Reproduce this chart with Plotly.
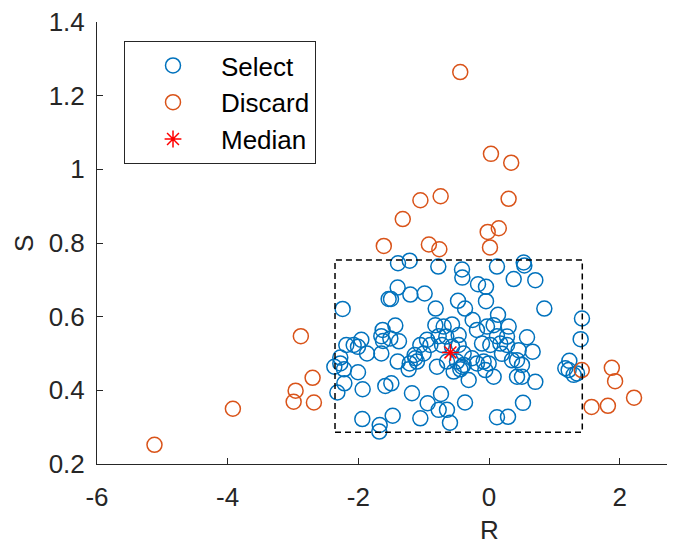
import plotly.graph_objects as go

# ---- data ----
select_r = [-1.393, -1.214, -0.776, -0.413, -0.408, 0.122, 0.531, 0.541, 0.378, 0.709,
            -1.398, -1.536, -1.500, -1.204, -0.985, -0.168, -0.046, -0.474, -0.046, -2.240,
            -0.816, -0.367, 0.847, 1.423, 0.138, -1.434, -1.628, -1.648, -0.821, -0.694,
            -0.566, -0.250, -0.184, -0.031, 0.071, 0.301, -1.954, -2.005, -2.184, -1.378,
            -1.622, -0.949, -0.770, -0.653, -0.464, 0.122, 0.276, 0.582, 1.403, -1.867,
            -1.648, -1.051, -1.138, -0.107, 0.020, 0.173, 0.454, 0.668, -2.276, -2.367,
            -2.219, -1.398, -1.214, -1.102, -0.796, -0.643, -0.490, -0.388, -0.260, -0.082,
            0.199, 0.429, 0.505, 1.230, 1.219, 1.296, -1.230, -0.541, -0.439, -0.311,
            -0.056, 0.071, 0.429, 0.505, 0.709, -2.005, -2.214, -2.321, -1.934, -1.587,
            -1.495, -1.179, -0.735, -0.939, -0.770, -0.643, -0.367, 0.520, -1.939, -1.673,
            -1.679, -1.474, -1.051, -0.597, 0.122, 0.291, -0.898, -0.719, -0.566, -0.464,
            -0.388, -0.184, -0.413, -1.000, 0.276, 0.352, 1.168, -2.071, -1.510, 1.347,
            -1.128, -0.005, -2.276]
select_s = [0.745, 0.752, 0.736, 0.728, 0.706, 0.736, 0.747, 0.739, 0.702, 0.699,
            0.679, 0.648, 0.648, 0.660, 0.663, 0.688, 0.681, 0.643, 0.642, 0.621,
            0.622, 0.622, 0.622, 0.595, 0.605, 0.576, 0.564, 0.547, 0.577, 0.573,
            0.579, 0.591, 0.564, 0.573, 0.577, 0.573, 0.537, 0.518, 0.523, 0.533,
            0.534, 0.537, 0.547, 0.546, 0.550, 0.547, 0.546, 0.544, 0.539, 0.500,
            0.500, 0.523, 0.496, 0.527, 0.523, 0.527, 0.509, 0.505, 0.489, 0.464,
            0.457, 0.478, 0.473, 0.478, 0.464, 0.478, 0.478, 0.469, 0.487, 0.478,
            0.499, 0.482, 0.469, 0.480, 0.455, 0.442, 0.457, 0.451, 0.457, 0.428,
            0.455, 0.437, 0.437, 0.437, 0.423, 0.449, 0.419, 0.394, 0.403, 0.412,
            0.419, 0.392, 0.390, 0.365, 0.347, 0.347, 0.367, 0.366, 0.322, 0.306,
            0.288, 0.331, 0.324, 0.312, 0.327, 0.328, 0.523, 0.523, 0.518, 0.523,
            0.500, 0.473, 0.464, 0.500, 0.523, 0.482, 0.460, 0.523, 0.541, 0.446,
            0.487, 0.473, 0.473]

discard_r = [-5.12, -3.92, -2.88, -2.70, -2.96, -2.99, -2.68,
             -0.44, 0.03, 0.34, -0.74, -1.05, 0.30, -1.32, 0.15, -0.02, 0.015, -0.92, -0.76,
             -1.61, 1.42, 1.88, 1.93, 2.22, 1.57, 1.82]
discard_s = [0.252, 0.350, 0.547, 0.434, 0.399, 0.369, 0.367,
             1.264, 1.042, 1.018, 0.927, 0.916, 0.920, 0.865, 0.840, 0.830, 0.788, 0.796, 0.783,
             0.792, 0.455, 0.461, 0.425, 0.380, 0.355, 0.358]

median_r = [-0.59]
median_s = [0.503]

box_r = [-2.357, 1.428]
box_s = [0.286, 0.754]

x_ticks = [-6, -4, -2, 0, 2]
x_ticklabels = ["-6", "-4", "-2", "0", "2"]
y_ticks = [0.2, 0.4, 0.6, 0.8, 1.0, 1.2, 1.4]
y_ticklabels = ["0.2", "0.4", "0.6", "0.8", "1", "1.2", "1.4"]

x_range = [-6, 2.847]
y_range = [0.2, 1.4]

# ---- styles ----
BLUE = "#0072BD"
ORANGE = "#D95319"
RED = "#FF0000"
AXC = "#262626"
FONT = "Liberation Sans, Arial, Helvetica, sans-serif"

fig = go.Figure()
fig.add_trace(go.Scatter(x=select_r, y=select_s, mode="markers", name="Select",
                         marker=dict(symbol="circle-open", size=15, color=BLUE,
                                     line=dict(width=1.5, color=BLUE))))
fig.add_trace(go.Scatter(x=discard_r, y=discard_s, mode="markers", name="Discard",
                         marker=dict(symbol="circle-open", size=15, color=ORANGE,
                                     line=dict(width=1.5, color=ORANGE))))
fig.add_trace(go.Scatter(x=median_r, y=median_s, mode="markers", name="Median",
                         marker=dict(symbol="asterisk-open", size=14, color=RED,
                                     line=dict(width=1.5, color=RED))))

fig.add_shape(type="rect", xref="x", yref="y",
              x0=box_r[0], x1=box_r[1], y0=box_s[0], y1=box_s[1],
              line=dict(color="black", width=1.5, dash="6px,4px"), layer="above")

axis_common = dict(showgrid=False, zeroline=False, showline=True, linecolor=AXC, linewidth=1,
                   ticks="inside", ticklen=6, tickcolor=AXC, tickwidth=1, automargin=False,
                   ticklabeloverflow="allow",
                   tickfont=dict(family=FONT, size=26, color=AXC), mirror=False)

fig.update_xaxes(range=x_range, tickvals=x_ticks, ticktext=x_ticklabels,
                 ticklabelstandoff=10, **axis_common)
fig.update_yaxes(range=y_range, tickvals=y_ticks, ticktext=y_ticklabels,
                 ticklabelstandoff=6, **axis_common)

fig.add_annotation(text="R", xref="x", yref="paper", x=0, y=0, yanchor="middle",
                   yshift=-66, showarrow=False, font=dict(family=FONT, size=26, color=AXC))
fig.add_annotation(text="S", xref="paper", yref="paper", x=0, y=(442 - 222) / 442,
                   xanchor="center", yanchor="middle", xshift=-73, textangle=-90,
                   showarrow=False, font=dict(family=FONT, size=26, color=AXC))

# page has an 8px body margin, so the figure is 667x538 and sits at (8, 8)
fig.update_layout(
    width=667, height=538,
    margin=dict(l=89, r=0, t=14, b=82),
    paper_bgcolor="white", plot_bgcolor="white",
    font=dict(family=FONT, color=AXC),
    showlegend=True,
    legend=dict(x=27 / 578, y=(442 - 19) / 442, xanchor="left", yanchor="top",
                bgcolor="white", bordercolor=AXC, borderwidth=1,
                font=dict(family=FONT, size=26, color="black"),
                itemwidth=86, tracegroupgap=0),
)

fig.write_html("out.html")
